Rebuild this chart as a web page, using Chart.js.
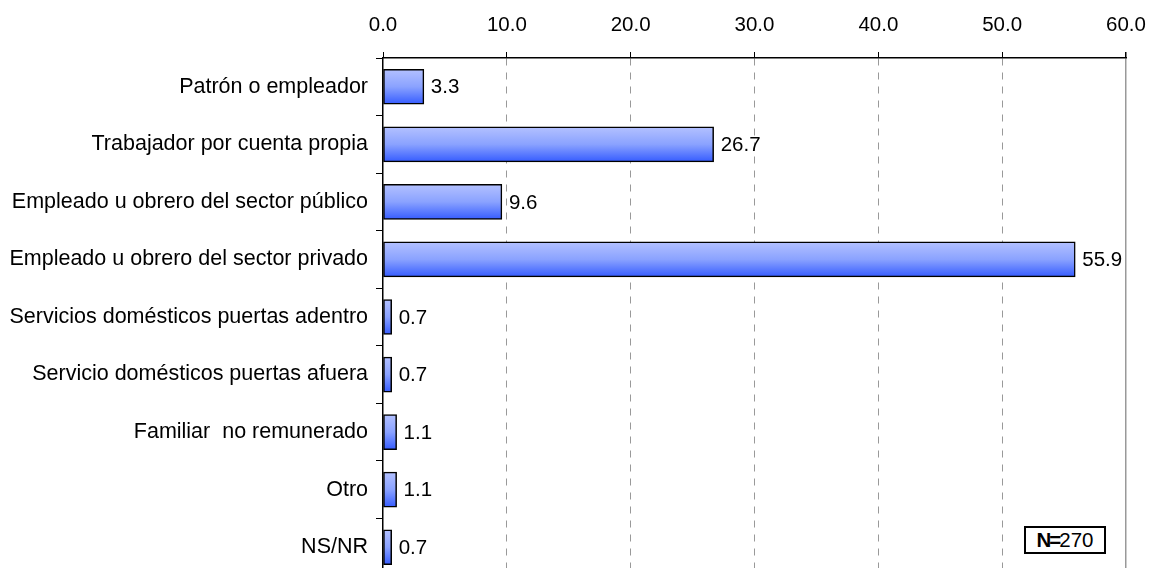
<!DOCTYPE html>
<html>
<head>
<meta charset="utf-8">
<script src="https://cdn.jsdelivr.net/npm/chart.js@4/dist/chart.umd.min.js"></script>
<style>
    html, body { margin: 0; padding: 0; background: #fff; overflow: hidden; }
    #wrap { position: relative; width: 1149px; height: 576px; }
    #nbox {
        position: absolute; left: 1024px; top: 526px; width: 78px; height: 24px;
        border: 2px solid #000; background: #fff; color: #000;
        font: 20.5px "Liberation Sans", Arial, sans-serif;
        text-align: center; line-height: 24px;
    }
    #nbox b { letter-spacing: -2px; }
</style>
</head>
<body>
<div id="wrap">
    <canvas id="ocupacion_chart" width="1149" height="576"></canvas>
    <div id="nbox"><b>N=</b>270</div>
</div>
<script>
// categorias y porcentajes
var categorias = [
    "Patrón o empleador",
    "Trabajador por cuenta propia",
    "Empleado u obrero del sector público",
    "Empleado u obrero del sector privado",
    "Servicios domésticos puertas adentro",
    "Servicio domésticos puertas afuera",
    "Familiar  no remunerado",
    "Otro",
    "NS/NR"
];
var porcentajes = [3.3, 26.7, 9.6, 55.9, 0.7, 0.7, 1.1, 1.1, 0.7];
var ejeMin = 0;
var ejeMax = 60;
var ejePaso = 10;

Chart.defaults.font.family = '"Liberation Sans", Arial, sans-serif';
Chart.defaults.font.size = 20.5;
Chart.defaults.color = "#000";

// gradient fill for each bar (light on top, strong blue below)
function barGradient(c) {
    var chart = c.chart, ys = chart.scales.y;
    if (!ys || c.dataIndex === undefined) return "#7090ff";
    var mid = ys.getPixelForValue(c.dataIndex);
    if (!isFinite(mid)) return "#7090ff";
    var g = chart.ctx.createLinearGradient(0, mid - 17, 0, mid + 17);
    g.addColorStop(0, "#b2c0ff");
    g.addColorStop(0.5, "#8aa2ff");
    g.addColorStop(1, "#385eff");
    return g;
}

// value labels at the end of every bar
var valueLabels = {
    id: "valueLabels",
    afterDatasetsDraw: function(chart) {
        var ctx = chart.ctx;
        var meta = chart.getDatasetMeta(0);
        ctx.save();
        ctx.font = '20.5px "Liberation Sans", Arial, sans-serif';
        ctx.fillStyle = "#000";
        ctx.textAlign = "left";
        ctx.textBaseline = "middle";
        meta.data.forEach(function(bar, i) {
            ctx.fillText(porcentajes[i].toFixed(1), bar.x + 7, bar.y + 1);
        });
        ctx.restore();
    }
};

var ctx = document.getElementById("ocupacion_chart").getContext("2d");

var myChart = new Chart(ctx, {
    type: "bar",
    data: {
        labels: categorias,
        datasets: [{
            data: porcentajes,
            backgroundColor: barGradient,
            borderColor: "#000",
            borderWidth: 1.5,
            borderSkipped: false,
            barThickness: 35
        }]
    },
    options: {
        indexAxis: "y",
        responsive: false,
        animation: false,
        layout: { padding: { left: 0, right: 23, top: 0, bottom: 0 } },
        plugins: {
            legend: { display: false },
            tooltip: { enabled: false }
        },
        scales: {
            x: {
                position: "top",
                min: ejeMin,
                max: ejeMax,
                ticks: {
                    stepSize: ejePaso,
                    padding: 14,
                    callback: function(v) { return Number(v).toFixed(1); }
                },
                grid: {
                    color: function(c) {
                        if (!c.tick) return "#999";
                        return c.tick.value === ejeMin ? "rgba(0,0,0,0)" : "#999";
                    },
                    lineWidth: function(c) {
                        return c.tick && c.tick.value === ejeMax ? 1.5 : 1;
                    },
                    tickColor: "#000",
                    tickLength: 6,
                    drawTicks: true
                },
                border: {
                    display: true,
                    color: "#000",
                    width: 1.5,
                    dash: function(c) {
                        return c.tick && c.tick.value === ejeMax ? [] : [7, 7];
                    }
                },
                afterFit: function(scale) {
                    scale.height = 58;
                    scale.paddingLeft = 0;
                    scale.paddingRight = 0;
                }
            },
            y: {
                ticks: { padding: 8, font: { size: 21.5 } },
                grid: {
                    offset: true,
                    drawOnChartArea: false,
                    drawTicks: true,
                    tickLength: 7,
                    tickColor: "#000",
                    color: "#000"
                },
                border: { display: true, color: "#000", width: 1.5 },
                afterFit: function(scale) {
                    scale.width = 383;
                    scale.paddingTop = 0;
                    scale.paddingBottom = 0;
                }
            }
        }
    },
    plugins: [valueLabels]
});
</script>
</body>
</html>
